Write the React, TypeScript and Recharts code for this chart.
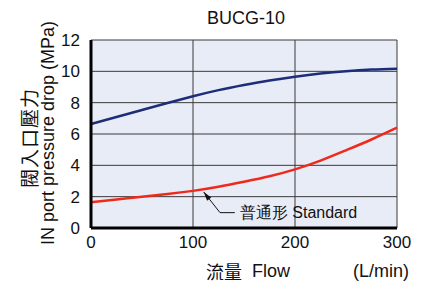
import { CartesianGrid, Customized, Line, LineChart, ReferenceDot, ReferenceLine, XAxis, YAxis } from "recharts";

const flow = [0, 25, 50, 75, 100, 125, 150, 175, 200, 225, 250, 275, 300];
const standard = [1.65, 1.82, 2.0, 2.17, 2.37, 2.63, 2.95, 3.3, 3.74, 4.3, 4.96, 5.65, 6.4];
const upper = [6.64, 7.08, 7.53, 7.98, 8.41, 8.8, 9.13, 9.42, 9.66, 9.86, 10.01, 10.11, 10.17];
const xTicks = [0, 100, 200, 300];
const yTicks = [0, 2, 4, 6, 8, 10, 12];

// 註記:箭頭指向普通形曲線
const arrowTip = { x: 110.5, y: 2.3 };
const arrowElbow = { x: 126.5, y: 0.98 };
const arrowEnd = { x: 141, y: 0.98 };

const rows = flow.map((f, i) => ({ flow: f, standard: standard[i], upper: upper[i] }));

const FONT = "'Liberation Sans', Arial, Helvetica, sans-serif";
const CJK = "'Noto Sans CJK TC', 'Noto Sans CJK SC', sans-serif";

function ArrowHead(props: any) {
  const { cx, cy } = props;
  if (cx == null || cy == null) return null;
  // 方向:由轉折點指向曲線 (左上)
  const ang = Math.atan2(-21, -16);
  const len = 9;
  const w = 2.6;
  const bx = cx - Math.cos(ang) * len;
  const by = cy - Math.sin(ang) * len;
  const nx = -Math.sin(ang) * w;
  const ny = Math.cos(ang) * w;
  return <polygon points={`${cx},${cy} ${bx + nx},${by + ny} ${bx - nx},${by - ny}`} fill="#111" />;
}

function Labels() {
  return (
    <g fill="#111">
      <text x={246} y={18} textAnchor="middle" dominantBaseline="central" fontSize={18} fontFamily={FONT}>
        BUCG-10
      </text>
      <text
        transform="translate(28,138) rotate(-90)"
        textAnchor="middle"
        dominantBaseline="central"
        fontSize={19}
        fontFamily={CJK}
        letterSpacing={1}
      >
        閥入口壓力
      </text>
      <text
        transform="translate(48,133) rotate(-90)"
        textAnchor="middle"
        dominantBaseline="central"
        fontSize={18}
        fontFamily={FONT}
      >
        IN port pressure drop (MPa)
      </text>
      <text x={206} y={271} dominantBaseline="central" fontSize={18}>
        <tspan fontFamily={CJK}>流量</tspan>
        <tspan fontFamily={FONT} dx={10}>Flow</tspan>
      </text>
      <text x={381} y={271} textAnchor="middle" dominantBaseline="central" fontSize={18} fontFamily={FONT}>
        (L/min)
      </text>
    </g>
  );
}

export default function App() {
  return (
    <div style={{ position: "absolute", left: 0, top: 0, background: "#fff" }}>
      <LineChart width={426} height={284} data={rows} margin={{ top: 40, right: 29, bottom: 0, left: 0 }}>
        <CartesianGrid stroke="#3a3a3a" strokeWidth={1} fill="#e8ecf7" />
        <XAxis
          dataKey="flow"
          type="number"
          domain={[0, 300]}
          ticks={xTicks}
          interval={0}
          tickLine={false}
          axisLine={{ stroke: "#000", strokeWidth: 3 }}
          tick={{ fontSize: 17, fill: "#111", fontFamily: FONT }}
          height={56}
        />
        <XAxis xAxisId="top" orientation="top" dataKey="flow" type="number" domain={[0, 300]} ticks={xTicks} tick={false} tickLine={false} axisLine={{ stroke: "#000", strokeWidth: 3 }} height={0} />
        <YAxis
          type="number"
          domain={[0, 12]}
          ticks={yTicks}
          interval={0}
          tickLine={false}
          axisLine={{ stroke: "#000", strokeWidth: 3 }}
          tick={{ fontSize: 17, fill: "#111", fontFamily: FONT }}
          tickMargin={5}
          width={91}
        />
        <YAxis yAxisId="right" orientation="right" type="number" domain={[0, 12]} ticks={yTicks} tick={false} tickLine={false} axisLine={{ stroke: "#000", strokeWidth: 3 }} width={0} />
        <Line type="natural" dataKey="upper" stroke="#1e2d78" strokeWidth={2.5} dot={false} isAnimationActive={false} />
        <Line type="natural" dataKey="standard" stroke="#ee2a1b" strokeWidth={2.5} dot={false} isAnimationActive={false} />
        <ReferenceLine
          segment={[arrowTip, arrowElbow]}
          stroke="#111"
          strokeWidth={1}
          ifOverflow="visible"
        />
        <ReferenceLine
          segment={[arrowElbow, arrowEnd]}
          stroke="#111"
          strokeWidth={1}
          ifOverflow="visible"
          label={{ value: "普通形 Standard", position: "right", offset: 5, fontSize: 16, fill: "#111", fontFamily: FONT }}
        />
        <ReferenceDot x={arrowTip.x} y={arrowTip.y} r={0} shape={ArrowHead} ifOverflow="visible" />
        <Customized component={Labels} />
      </LineChart>
    </div>
  );
}
